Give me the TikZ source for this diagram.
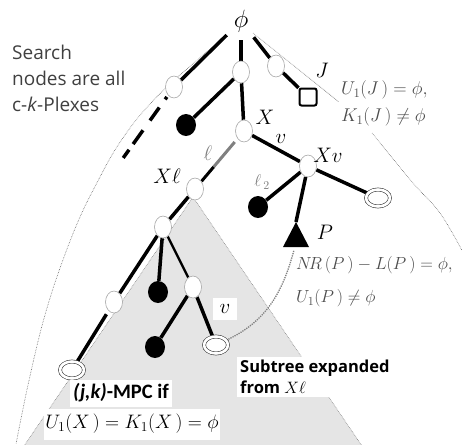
\RequirePackage{fix-cm}
\documentclass[tikz,border=0pt]{standalone}
\usepackage{fontspec}
\setsansfont{Carlito}
\newfontfamily\opensans{Open Sans}
\usetikzlibrary{shapes.geometric,calc,backgrounds}

\begin{document}
\begin{tikzpicture}[x=1pt,y=-1pt,
  wnode/.style={ellipse, draw=gray!70, line width=0.6pt, fill=white,
    minimum width=17pt, minimum height=22pt, inner sep=0pt},
  bnode/.style={ellipse, fill=black, minimum width=20pt, minimum height=22pt, inner sep=0pt},
  dnode/.style={ellipse, draw=black!75, line width=0.6pt, double=white,
    double distance=2.6pt, fill=white, minimum width=24pt, minimum height=17pt, inner sep=0pt},
  sqnode/.style={rectangle, rounded corners=2pt, draw=black, line width=2pt, fill=white,
    minimum size=17pt, inner sep=0pt},
  treeedge/.style={line width=3.5pt, black},
  slimedge/.style={line width=2.4pt, black},
  lbl/.style={inner sep=0pt, font=\fontsize{21}{24}\selectfont},
  glbl/.style={lbl, text=gray},
  formula/.style={text=black!70, inner sep=0pt, anchor=west, font=\fontsize{18.5}{22}\selectfont},
  guide/.style={gray!80!black, line width=0.6pt, densely dotted},
]
\useasboundingbox (0,0) rectangle (462,444);

% nodes
\node (phi) [lbl, inner sep=4pt, font=\fontsize{25}{27}\selectfont] at (241,21) {$\phi$};
\node (L1) [wnode] at (174,87) {};
\node (M1) [wnode] at (241,72) {};
\node (R1) [wnode] at (276,66) {};
\node (J)  [sqnode] at (308,97) {};
\node (B1) [bnode] at (186,125) {};
\node (X)  [wnode] at (244,131) {};
\node (Xl) [wnode] at (195,189) {};
\node (Xv) [wnode] at (308,166) {};
\node (B2) [bnode] at (258,207) {};
\node (D1) [dnode] at (378,198) {};
\coordinate (P) at (296,222);
\coordinate (Pb) at (294,250);
\node (A)  [wnode] at (163,227) {};
\node (C)  [bnode] at (158,292) {};
\node (B)  [wnode] at (114,302) {};
\node (D)  [wnode] at (193,287) {};
\node (E)  [bnode] at (155,347) {};
\node (F)  [dnode] at (216,345) {};
\node (G)  [dnode] at (72,370) {};
\coordinate (dashend) at (121,161);

% the leaf P
\fill[black] (283,247) -- (296,222) -- (309,247) -- cycle;

\begin{scope}[on background layer]
  % shaded subtree below X-ell
  \fill[gray!20] (193,197) -- (362,446) -- (24,446) -- cycle;
  \draw[guide, gray] (24,446) -- (193,197) -- (362,446);
  % outer boundary curves of the search tree
  \draw[guide] plot[smooth, tension=0.6] coordinates {(223,38) (195,62) (170,84) (150,104)
    (133,124) (115,150) (100,177) (80,217) (60,268) (43,322) (28,385) (16,444)};
  \draw[guide] (253,33) -- (339,102);
  \draw[guide] plot[smooth, tension=0.6] coordinates {(372,133) (413,183) (440,213) (464,254)};
  % connectors
  \draw[treeedge, shorten <=4pt] (phi) -- (L1);
  \draw[treeedge, shorten <=4pt] (phi) -- (M1);
  \draw[treeedge, shorten <=2pt] (phi) -- (R1);
  \draw[treeedge] (R1) -- (J);
  \draw[treeedge] (M1) -- (B1);
  \draw[treeedge] (M1) -- (X);
  \draw[line width=3.5pt, dash pattern=on 0pt off 2pt on 3pt off 10pt on 16pt off 12pt on 17pt off 7pt on 10pt off 60pt]
    (L1) -- (dashend);
  \draw[line width=3pt, gray] ($(X)!0.19!(Xl)$) -- ($(X)!0.62!(Xl)$);
  \draw[line width=3pt, black] ($(X)!0.62!(Xl)$) -- (Xl);
  \draw[treeedge] (X) -- (Xv);
  \draw[treeedge] (Xv) -- (B2);
  \draw[treeedge] (Xv) -- (D1);
  \draw[treeedge] (Xv) -- (P);
  \draw[treeedge] (Xl) -- (A);
  \draw[treeedge] (A) -- (B);
  \draw[treeedge, shorten <=4pt] (B) -- (G);
  \draw[treeedge] (A) -- (C);
  \draw[slimedge] (A) -- (D);
  \draw[treeedge] (D) -- (E);
  \draw[treeedge] (D) -- (F);
  \draw[gray, line width=1.3pt, densely dotted] (F) to[out=25, in=-105] (Pb);
\end{scope}

% node labels
\node (lJ)  [lbl] at (322,70)  {$J$};
\node (lX)  [lbl] at (265,117) {$X$};
\node (lXv) [lbl] at (328,155) {$Xv$};
\node (lXl) [lbl] at (167,176) {$X\ell$};
\node (lv)  [lbl] at (281,139) {$v$};
\node (ll)  [glbl] at (208,153) {$\ell$};
\node (ll2) [glbl, font=\fontsize{17}{19}\selectfont] at (262,182) {$\ell_{\,2}$};
\node (lP)  [lbl] at (325,232) {$P$};
\node (vbox) [lbl, fill=white, minimum width=24pt, minimum height=22pt] at (225,309) {$v$};

% conditions
\node (cJ1) [formula] at (341,90)  {$U_1(J\,) = \phi,$};
\node (cJ2) [formula] at (341,117) {$K_1(J\,) \neq \phi$};
\node (cP1) [formula, font=\fontsize{17.5}{21}\selectfont] at (296,265) {$N\!R\,(P\,) - L(P\,) = \phi,$};
\node (cP2) [formula, font=\fontsize{17.5}{21}\selectfont] at (296,298) {$U_1(P\,) \neq \phi$};

% text boxes
\node (search) [text=black!75, align=left, anchor=north west, inner sep=0pt,
  font=\opensans\fontsize{19}{26}\selectfont] at (12,45)
  {Search\\nodes are all\\c-\textit{k}-Plexes};
\node (mpc) [fill=white, minimum height=27pt, inner xsep=3pt,
  font=\sffamily\bfseries\fontsize{20.5}{22}\selectfont] at (121,393)
  {\textit{(j,k)}-MPC if};
\node (ukx) [fill=white, minimum width=176pt, minimum height=31pt, inner sep=0pt,
  font=\fontsize{19.5}{22}\selectfont] at (132,424)
  {$U_1(X\,) = K_1(X\,) = \phi$};
\node (sub) [fill=white, align=left, anchor=north west, inner sep=3pt,
  font=\opensans\bfseries\fontsize{16.5}{21}\selectfont] at (237,357)
  {Subtree expanded\\from {\mdseries$X\ell$}};
\end{tikzpicture}
\end{document}
